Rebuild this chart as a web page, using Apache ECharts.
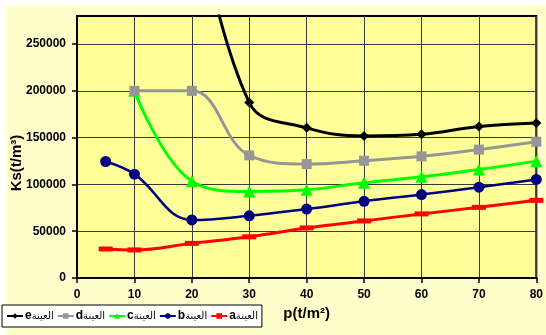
<!DOCTYPE html>
<html>
<head>
<meta charset="utf-8">
<script src="https://cdn.jsdelivr.net/npm/echarts@6/dist/echarts.min.js"></script>
<style>
  html, body { margin: 0; padding: 0; background: #ffffff; }
  #chart { width: 546px; height: 335px; }
</style>
</head>
<body>
<div id="chart"></div>
<script>
// Pressure p (t/m²) at which each sample was measured
const pressure = [5, 10, 20, 30, 40, 50, 60, 70, 80];

// Ks (t/m³) per sample; null where the sample has no reading
const sampleA = [31000, 30000, 37000, 44000, 53500, 61000, 68500, 75500, 83000];
const sampleB = [124500, 111000, 62000, 66500, 73700, 82000, 89200, 97000, 105300];
const sampleC = [null, 200000, 103500, 92500, 94300, 101700, 108100, 115900, 124900];
const sampleD = [null, 200000, 200000, 131000, 121700, 125300, 130000, 137200, 145600];
const sampleE = [null, null, 420000, 187500, 160500, 151700, 153500, 162000, 165700];

const sampleWord = 'العينة';
const sampleLetters = ['a', 'b', 'c', 'd', 'e'];
const legendOrder = ['e', 'd', 'c', 'b', 'a'];

const xTicks = [0, 10, 20, 30, 40, 50, 60, 70, 80];
const yTicks = [0, 50000, 100000, 150000, 200000, 250000];

function pairs(values) {
  const out = [];
  values.forEach(function (v, i) {
    if (v !== null) out.push([pressure[i], v]);
  });
  return out;
}

const styles = {
  a: { color: '#ff0000', symbol: 'rect', symbolSize: [14, 5], width: 3 },
  b: { color: '#000080', symbol: 'circle', symbolSize: 11, width: 2.5 },
  c: { color: '#00ff00', symbol: 'triangle', symbolSize: 12, width: 3 },
  d: { color: '#969696', symbol: 'rect', symbolSize: 10, width: 3 },
  e: { color: '#000000', symbol: 'diamond', symbolSize: 10, width: 3 }
};

const valuesByLetter = { a: sampleA, b: sampleB, c: sampleC, d: sampleD, e: sampleE };

const series = sampleLetters.map(function (k) {
  const s = styles[k];
  return {
    name: k,
    type: 'line',
    smooth: 0.4,
    clip: true,
    data: pairs(valuesByLetter[k]),
    symbol: s.symbol,
    symbolSize: s.symbolSize,
    showAllSymbol: true,
    lineStyle: { color: s.color, width: s.width },
    itemStyle: { color: s.color, borderWidth: 0 },
    emphasis: { disabled: true },
    z: 3
  };
});

const chart = echarts.init(document.getElementById('chart'), null, { renderer: 'canvas' });

chart.setOption({
  animation: false,
  backgroundColor: '#ffffff',
  textStyle: { fontFamily: 'Liberation Sans, Arial, sans-serif' },
  graphic: [
    {
      type: 'rect',
      z: -10,
      shape: { x: 5, y: 5, width: 541, height: 330 },
      style: { fill: '#ffffcc' },
      silent: true
    },
    {
      type: 'text',
      x: 17,
      y: 163,
      rotation: Math.PI / 2,
      style: {
        text: 'Ks(t/m³)',
        fontFamily: 'Liberation Sans, Arial, sans-serif',
        fontWeight: 'bold',
        fontSize: 15,
        fill: '#000',
        align: 'center',
        verticalAlign: 'middle'
      }
    }
  ],
  grid: {
    left: 77,
    top: 16,
    width: 464,
    height: 262,
    show: true,
    backgroundColor: '#ffff99',
    borderColor: '#000',
    borderWidth: 2,
    containLabel: false
  },
  legend: {
    data: legendOrder,
    left: 2,
    top: 305,
    orient: 'horizontal',
    backgroundColor: '#ffffff',
    borderColor: '#000',
    borderWidth: 1,
    padding: [5, 4, 5, 4],
    itemGap: 3,
    itemWidth: 16,
    itemHeight: 7,
    selectedMode: false,
    formatter: function (name) {
      return '{k|' + name + '}{w|' + sampleWord + '}';
    },
    textStyle: {
      padding: [0, 0, 0, -3],
      rich: {
        k: { fontFamily: 'Liberation Sans, Arial, sans-serif', fontWeight: 'bold', fontSize: 12, color: '#000' },
        w: { fontFamily: 'DejaVu Sans, sans-serif', fontSize: 10, color: '#000' }
      }
    }
  },
  xAxis: {
    type: 'value',
    min: xTicks[0],
    max: xTicks[xTicks.length - 1],
    interval: 10,
    name: 'p(t/m²)',
    nameLocation: 'middle',
    nameGap: 28,
    nameTextStyle: { fontFamily: 'Liberation Sans, Arial, sans-serif', fontWeight: 'bold', fontSize: 15, color: '#000' },
    axisLine: { show: true, onZero: false, lineStyle: { color: '#000', width: 2 } },
    axisTick: { show: true, inside: false, length: 5, lineStyle: { color: '#000', width: 1.5 } },
    axisLabel: { margin: 11, fontWeight: 'bold', fontSize: 12, color: '#000' },
    splitLine: { show: true, lineStyle: { color: '#3a3a3a', width: 1 } }
  },
  yAxis: {
    type: 'value',
    min: yTicks[0],
    max: 280000,
    interval: 50000,
    axisLine: { show: true, onZero: false, lineStyle: { color: '#000', width: 2 } },
    axisTick: { show: true, inside: false, length: 5, lineStyle: { color: '#000', width: 1.5 }, customValues: yTicks },
    axisLabel: {
      margin: 11, fontWeight: 'bold', fontSize: 12, color: '#000',
      customValues: yTicks,
      formatter: function (v) { return String(v); }
    },
    splitLine: { show: true, lineStyle: { color: '#3a3a3a', width: 1 } }
  },
  series: series
});
</script>
</body>
</html>
